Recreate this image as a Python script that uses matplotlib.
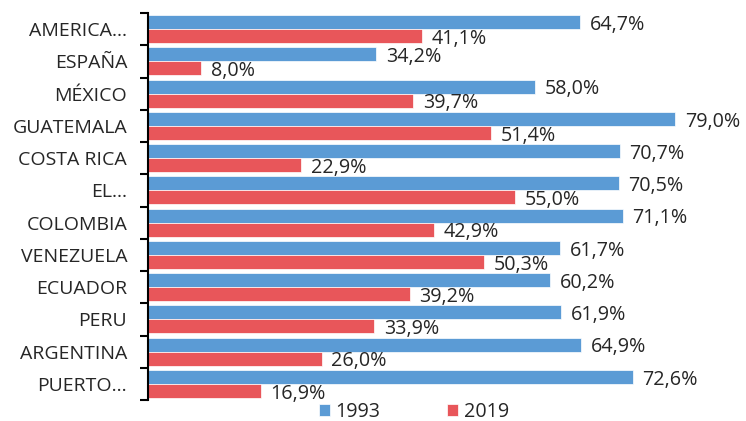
import numpy as np
import matplotlib.pyplot as plt

plt.rcParams['font.family'] = ['Open Sans', 'DejaVu Sans']

countries = ['AMERICA…', 'ESPAÑA', 'MÉXICO', 'GUATEMALA', 'COSTA RICA', 'EL…',
             'COLOMBIA', 'VENEZUELA', 'ECUADOR', 'PERU', 'ARGENTINA', 'PUERTO…']
v1993 = [64.7, 34.2, 58.0, 79.0, 70.7, 70.5, 71.1, 61.7, 60.2, 61.9, 64.9, 72.6]
v2019 = [41.1, 8.0, 39.7, 51.4, 22.9, 55.0, 42.9, 50.3, 39.2, 33.9, 26.0, 16.9]

blue = '#5B9BD5'
red = '#E8565A'
txt = '#262626'

fig = plt.figure(figsize=(7.46, 4.21), dpi=100)
ax = fig.add_axes([148 / 746, 21 / 421, 598 / 746, 387 / 421])

y = np.arange(len(countries))
h = 0.434
b1 = ax.barh(y - h / 2, v1993, height=h, color=blue, edgecolor='white', linewidth=0.5, label='1993')
b2 = ax.barh(y + h / 2, v2019, height=h, color=red, edgecolor='white', linewidth=0.5, label='2019')

def fmt(v):
    return f'{v:.1f}%'.replace('.', ',')

for bars, vals in [(b1, v1993), (b2, v2019)]:
    for bar, v in zip(bars, vals):
        ax.annotate(fmt(v), (v, bar.get_y() + bar.get_height() / 2),
                    xytext=(7, -2), textcoords='offset points',
                    va='center', ha='left', fontsize=14.2, color=txt)

ax.set_xlim(0, 89.6)
ax.set_ylim(len(countries) - 0.5, -0.5)
ax.set_yticks(y)
ax.set_yticklabels(countries, fontsize=14, color=txt)
ax.set_yticks(np.arange(len(countries) + 1) - 0.5, minor=True)
ax.tick_params(axis='y', which='major', length=0, pad=15)
ax.tick_params(axis='y', which='minor', length=6, width=1.5, direction='out', color='black')
ax.set_xticks([])
for s in ['top', 'right', 'bottom']:
    ax.spines[s].set_visible(False)
ax.spines['left'].set_linewidth(1.5)
ax.spines['left'].set_color('black')

fig.legend(handles=[b1, b2], loc='lower center', bbox_to_anchor=(0.555, -0.045), ncol=2,
           frameon=False, fontsize=14.2, handlelength=0.55, handleheight=0.55,
           columnspacing=3.4, handletextpad=0.3, labelcolor=txt)

fig.savefig('out.png', dpi=100)
